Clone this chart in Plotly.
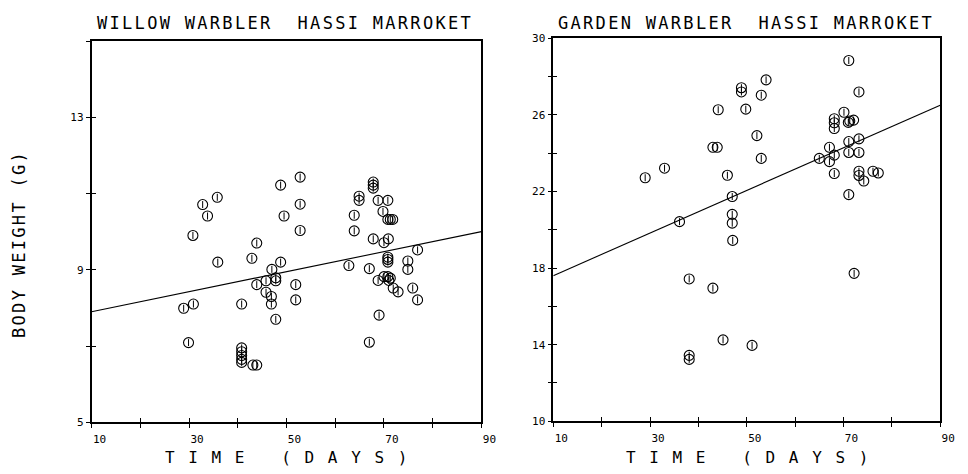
import plotly.graph_objects as go

# ---------------- data ----------------
willow_day = [48.8, 35.8, 32.8, 33.8, 49.5, 30.8, 43.9, 42.9, 35.9, 48.8, 47.0, 47.8, 47.8, 45.8,
              43.9, 45.8, 46.9, 46.9, 28.9, 30.9, 40.8, 47.8, 29.9, 40.8, 40.8, 40.8, 40.8, 40.8,
              43.1, 43.9, 52.8, 52.8, 52.8, 51.9, 51.9, 67.8, 67.8, 67.8, 64.9, 64.9, 68.8, 70.8,
              69.8, 70.8, 71.3, 71.8, 63.9, 63.9, 67.8, 70.0, 70.9, 76.9, 62.8, 67.0, 70.8, 70.8,
              70.8, 74.9, 74.9, 70.0, 70.8, 71.3, 68.8, 71.0, 71.9, 72.9, 75.9, 76.9, 69.0, 67.0]
willow_weight = [11.22, 10.90, 10.71, 10.41, 10.41, 9.90, 9.70, 9.30, 9.20, 9.20, 9.01, 8.79, 8.71, 8.71,
                 8.61, 8.41, 8.30, 8.10, 7.99, 8.10, 8.10, 7.70, 7.09, 6.95, 6.85, 6.75, 6.65, 6.57,
                 6.50, 6.50, 11.43, 10.72, 10.03, 8.61, 8.21, 11.30, 11.22, 11.14, 10.93, 10.82, 10.82, 10.82,
                 10.53, 10.32, 10.32, 10.32, 10.43, 10.02, 9.81, 9.71, 9.81, 9.52, 9.11, 9.03, 9.33, 9.27,
                 9.20, 9.23, 9.01, 8.82, 8.82, 8.78, 8.72, 8.72, 8.52, 8.42, 8.52, 8.21, 7.81, 7.10]

garden_day = [48.9, 48.9, 44.1, 49.8, 43.0, 43.9, 33.0, 29.0, 46.0, 47.0, 36.1, 47.0, 47.0, 47.1,
              38.1, 43.0, 45.1, 38.1, 38.1, 51.1, 54.0, 53.0, 52.1, 53.0, 71.1, 73.2, 70.1, 68.1,
              68.1, 68.1, 71.0, 71.3, 72.1, 71.1, 73.2, 67.1, 65.0, 67.1, 68.1, 71.1, 73.2, 68.1,
              73.2, 73.2, 74.2, 76.1, 77.2, 71.1, 72.2]
garden_weight = [27.41, 27.19, 26.26, 26.29, 24.30, 24.30, 23.21, 22.71, 22.84, 21.73, 20.42, 20.80, 20.34, 19.44,
                 17.43, 16.95, 14.25, 13.44, 13.23, 13.96, 27.82, 27.02, 24.91, 23.72, 28.83, 27.19, 26.13, 25.79,
                 25.58, 25.28, 25.60, 25.67, 25.72, 24.60, 24.74, 24.30, 23.72, 23.55, 23.89, 24.03, 24.03, 22.93,
                 23.05, 22.83, 22.54, 23.05, 22.96, 21.83, 17.72]

fit_day = [10, 90]
willow_fit = [7.9, 10.0]
garden_fit = [17.6, 26.5]

x_ticks = [10, 20, 30, 40, 50, 60, 70, 80, 90]
x_ticklabels = ["10", "", "30", "", "50", "", "70", "", "90"]
willow_yticks = [5, 7, 9, 11, 13, 15]
willow_yticklabels = ["5", "", "9", "", "13", ""]
garden_yticks = [10, 12, 14, 16, 18, 20, 22, 24, 26, 28, 30]
garden_yticklabels = ["10", "", "14", "", "18", "", "22", "", "26", "", "30"]

titles = ["WILLOW WARBLER  HASSI MARROKET", "GARDEN WARBLER  HASSI MARROKET"]
x_title = "T I M E   ( D A Y S )"
y_title = "BODY WEIGHT (G)"

# ---------------- figure ----------------
W, H = 968, 474
MONO = "DejaVu Sans Mono"


def px_x(p):
    return p / W


def px_y(p):
    return 1 - p / H


fig = go.Figure()


def add_panel(days, weights, fit, xa, ya):
    fig.add_trace(go.Scatter(x=days, y=weights, mode="markers", xaxis=xa, yaxis=ya,
                             marker=dict(symbol="circle-open", size=10, color="black",
                                         line=dict(width=1.1, color="black")),
                             showlegend=False, hoverinfo="skip"))
    fig.add_trace(go.Scatter(x=days, y=weights, mode="markers", xaxis=xa, yaxis=ya,
                             marker=dict(symbol="line-ns", size=5, color="black",
                                         line=dict(width=1.0, color="black")),
                             showlegend=False, hoverinfo="skip"))
    fig.add_trace(go.Scatter(x=fit_day, y=fit, mode="lines", xaxis=xa, yaxis=ya,
                             line=dict(color="black", width=1.1),
                             showlegend=False, hoverinfo="skip"))


add_panel(willow_day, willow_weight, willow_fit, "x", "y")
add_panel(garden_day, garden_weight, garden_fit, "x2", "y2")

tickfont = dict(family=MONO, size=11, color="black")
axis_common = dict(showgrid=False, zeroline=False, showline=True, linecolor="black",
                   linewidth=1.5, mirror=True, ticks="outside", ticklen=4, tickwidth=1.2,
                   tickcolor="black", tickfont=tickfont, tickmode="array")
inner_common = dict(showgrid=False, zeroline=False, showline=False, ticks="inside",
                    ticklen=4, tickwidth=1.2, tickcolor="black", showticklabels=False,
                    tickmode="array")

fig.update_layout(
    width=W, height=H, margin=dict(l=0, r=0, t=0, b=0),
    paper_bgcolor="white", plot_bgcolor="white",
    xaxis=dict(axis_common, domain=[px_x(93), px_x(489)], range=[10, 90], anchor="y",
               tickvals=x_ticks, ticktext=x_ticklabels, ticklabelshift=8, ticklabelstandoff=2),
    yaxis=dict(axis_common, domain=[px_y(428), px_y(36)], range=[5, 15], anchor="x",
               tickvals=willow_yticks, ticktext=willow_yticklabels),
    xaxis2=dict(axis_common, domain=[px_x(562), px_x(955)], range=[10, 90], anchor="y2",
                tickvals=x_ticks, ticktext=x_ticklabels, ticklabelshift=8, ticklabelstandoff=2),
    yaxis2=dict(axis_common, domain=[px_y(427), px_y(33)], range=[10, 30], anchor="x2",
                tickvals=garden_yticks, ticktext=garden_yticklabels),
    xaxis3=dict(inner_common, overlaying="x", anchor="y", side="bottom", range=[10, 90],
                tickvals=x_ticks),
    yaxis3=dict(inner_common, overlaying="y", anchor="x", side="left", range=[5, 15],
                tickvals=willow_yticks),
    xaxis4=dict(inner_common, overlaying="x2", anchor="y2", side="bottom", range=[10, 90],
                tickvals=x_ticks),
    yaxis4=dict(inner_common, overlaying="y2", anchor="x2", side="left", range=[10, 30],
                tickvals=garden_yticks),
)

# dummy traces so overlay axes are drawn
fig.add_trace(go.Scatter(x=[None], y=[None], xaxis="x3", yaxis="y3", showlegend=False, hoverinfo="skip"))
fig.add_trace(go.Scatter(x=[None], y=[None], xaxis="x4", yaxis="y4", showlegend=False, hoverinfo="skip"))

title_font = dict(family=MONO, size=17, color="black")
axis_title_font = dict(family=MONO, size=16, color="black")


def spaced(t, sp):
    return '<span style="letter-spacing:%spx">' % sp + t + "</span>"


fig.add_annotation(text=spaced(titles[0], 2.3), x=px_x(97), y=px_y(17), xref="paper", yref="paper",
                   xanchor="left", yanchor="middle", showarrow=False, font=title_font)
fig.add_annotation(text=spaced(titles[1], 2.3), x=px_x(565), y=px_y(17), xref="paper", yref="paper",
                   xanchor="left", yanchor="middle", showarrow=False, font=title_font)
fig.add_annotation(text=spaced(x_title, 2.0), x=px_x(166), y=px_y(464), xref="paper", yref="paper",
                   xanchor="left", yanchor="middle", showarrow=False, font=axis_title_font)
fig.add_annotation(text=spaced(x_title, 2.0), x=px_x(634), y=px_y(464), xref="paper", yref="paper",
                   xanchor="left", yanchor="middle", showarrow=False, font=axis_title_font)
fig.add_annotation(text=spaced(y_title, 2.3), x=px_x(20), y=px_y(245), xref="paper", yref="paper",
                   xanchor="center", yanchor="middle", textangle=-90, showarrow=False,
                   font=title_font)

fig.write_html("out.html")
